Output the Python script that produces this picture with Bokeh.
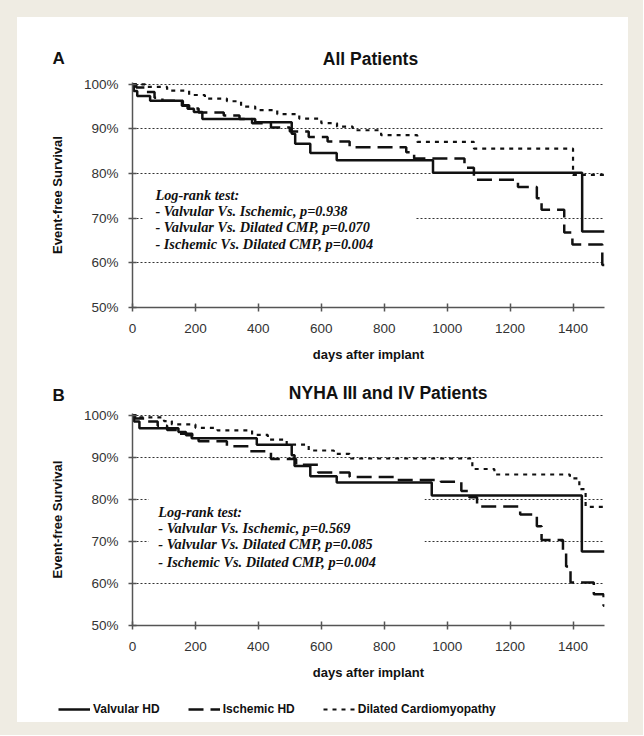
from bokeh.plotting import figure
from bokeh.models import Range1d, FixedTicker, Legend, LegendItem, Spacer
from bokeh.layouts import column, row
from bokeh.embed import file_html
from bokeh.resources import INLINE
from bokeh.core.properties import value

# ---------------- data ----------------
series_names = ["Valvular HD", "Ischemic HD", "Dilated Cardiomyopathy"]
follow_up_end = 1500
x_ticks = [0, 200, 400, 600, 800, 1000, 1200, 1400]
y_ticks = [50, 60, 70, 80, 90, 100]
grid_levels = [60, 70, 80, 90, 100]

# Panel A: All Patients (day of event, survival % after event)
a_valv_days = [0, 4, 15, 56, 157, 175, 195, 222, 390, 506, 517, 565, 649, 955, 1429]
a_valv_surv = [100, 98.5, 97.4, 96.3, 95.2, 94.5, 93.8, 92.2, 91.5, 88.9, 86.7, 84.6, 83.0, 80.2, 67.0]

a_isch_days = [0, 12, 45, 70, 95, 160, 180, 210, 290, 340, 380, 440, 500, 560, 620, 690,
               870, 895, 1055, 1085, 1225, 1285, 1300, 1372, 1398, 1493]
a_isch_surv = [100, 99.3, 98.3, 97.0, 96.3, 95.3, 94.6, 93.7, 93.0, 92.2, 91.3, 90.3, 89.4, 88.2, 87.2, 85.9,
               84.8, 83.4, 81.3, 78.6, 77.0, 74.5, 71.9, 66.8, 64.1, 59.5]

a_dil_days = [0, 40, 110, 180, 230, 300, 345, 390, 460, 530, 600, 650, 700, 790, 905, 1085, 1400]
a_dil_surv = [100, 99.4, 98.6, 97.6, 96.8, 96.2, 95.0, 94.2, 93.3, 92.3, 91.3, 90.5, 89.7, 88.6, 87.1, 85.6, 79.7]

a_title = "All Patients"
a_letter = "A"
a_notes = ["Log-rank test:",
           "- Valvular Vs. Ischemic, p=0.938",
           "- Valvular Vs. Dilated CMP, p=0.070",
           "- Ischemic Vs. Dilated CMP, p=0.004"]

# Panel B: NYHA III and IV Patients
b_valv_days = [0, 5, 22, 146, 170, 188, 395, 506, 515, 565, 649, 951, 1428]
b_valv_surv = [100, 98.5, 96.9, 96.0, 95.2, 94.5, 93.0, 90.5, 87.9, 85.5, 84.0, 80.9, 67.6]

b_isch_days = [0, 8, 40, 80, 110, 150, 190, 210, 300, 370, 440, 520, 590, 690, 830, 980,
               1045, 1070, 1095, 1232, 1285, 1300, 1368, 1378, 1392, 1466, 1497]
b_isch_surv = [100, 99.2, 98.5, 97.5, 96.5, 95.6, 94.5, 93.8, 92.6, 91.4, 89.6, 88.2, 86.4, 85.3, 84.6, 84.2,
               82.0, 80.5, 78.3, 76.4, 73.6, 70.3, 67.5, 64.0, 60.2, 57.4, 54.7]

b_dil_days = [0, 15, 100, 125, 200, 270, 380, 430, 490, 560, 640, 690, 1080, 1150, 1390, 1420, 1440]
b_dil_surv = [100, 99.5, 98.6, 97.8, 97.0, 96.4, 95.3, 94.2, 93.0, 91.6, 90.8, 89.7, 87.2, 85.9, 85.0, 82.4, 78.2]

b_title = "NYHA III and IV Patients"
b_letter = "B"
b_notes = ["Log-rank test:",
           "- Valvular Vs. Ischemic, p=0.569",
           "- Valvular Vs. Dilated CMP, p=0.085",
           "- Ischemic Vs. Dilated CMP, p=0.004"]

# ---------------- styling ----------------
BEIGE = "#efece3"
INK = "#111111"
SANS = "Liberation Sans"
SERIF = "Liberation Serif"
W = 611
styles = [dict(line_dash="solid", line_width=2.5),
          dict(line_dash="15 7", line_width=2.5),
          dict(line_dash="4 5", line_width=2.2)]


def blank(height):
    p = figure(width=W, height=height, x_range=Range1d(0, W), y_range=Range1d(0, height),
               x_axis_location=None, y_axis_location=None, toolbar_location=None,
               output_backend="svg", min_border=0, frame_align=False)
    p.outline_line_color = None
    p.background_fill_color = "white"
    p.border_fill_color = "white"
    p.grid.visible = False
    return p


def header(height, letter, letter_y, title, title_x, title_y):
    h = blank(height)
    h.text(x=[35], y=[letter_y], text=[letter], text_font=value(SANS), text_font_style="bold",
           text_font_size="17px", text_baseline="middle", text_align="left", text_color=INK)
    h.text(x=[title_x], y=[title_y], text=[title], text_font=value(SANS), text_font_style="bold",
           text_font_size="17.5px", text_baseline="middle", text_align="center", text_color=INK)
    return h


def make_panel(height, top, bottom, curves, notes, note_x, note_ys, box):
    p = figure(width=W, height=height, x_range=Range1d(0, follow_up_end),
               y_range=Range1d(50, 100.4), output_backend="svg", toolbar_location=None,
               min_border_left=115, min_border_right=24, min_border_top=top,
               min_border_bottom=bottom)
    p.outline_line_color = None
    p.background_fill_color = "white"
    p.border_fill_color = "white"
    p.xgrid.visible = False
    p.ygrid.ticker = FixedTicker(ticks=grid_levels)
    p.ygrid.grid_line_color = "#333333"
    p.ygrid.grid_line_dash = "2 2"
    p.ygrid.grid_line_width = 1

    p.xaxis.ticker = FixedTicker(ticks=x_ticks)
    p.yaxis.ticker = FixedTicker(ticks=y_ticks)
    p.yaxis.major_label_overrides = {t: f"{t}%" for t in y_ticks}
    for ax in (p.xaxis[0], p.yaxis[0]):
        ax.axis_line_color = "#555555"
        ax.axis_line_width = 1.5
        ax.major_tick_line_color = "#555555"
        ax.major_tick_line_width = 1.5
        ax.major_tick_in = 4
        ax.major_tick_out = 4
        ax.minor_tick_line_color = None
        ax.major_label_text_font = SANS
        ax.major_label_text_font_size = "13.5px"
        ax.major_label_text_color = "#333333"
        ax.axis_label_text_font = SANS
        ax.axis_label_text_font_style = "bold"
        ax.axis_label_text_font_size = "13px"
        ax.axis_label_text_color = INK
    p.xaxis.axis_label = "days after implant"
    p.xaxis.major_label_standoff = 12
    p.xaxis.axis_label_standoff = 11
    p.yaxis.axis_label = "Event-free Survival"
    p.yaxis.major_label_standoff = 10
    p.yaxis.axis_label_standoff = 16

    # white box behind the log-rank text (hides the gridlines there)
    p.quad(left=[box[0]], right=[box[1]], bottom=[box[2]], top=[box[3]],
           fill_color="white", line_color=None)

    for (days, surv), st in zip(curves, styles):
        xs = days + [follow_up_end]
        ys = surv + [surv[-1]]
        p.step(xs, ys, mode="after", line_color=INK, **st)

    p.text(x=[note_x] * len(notes), y=note_ys, text=notes,
           text_font=value(SERIF), text_font_style="bold italic",
           text_font_size="14.3px", text_baseline="middle", text_align="left",
           text_color=INK)
    return p


hA = header(53, a_letter, 12, a_title, 353, 12)
pA = make_panel(302, 12, 65,
                [(a_valv_days, a_valv_surv), (a_isch_days, a_isch_surv), (a_dil_days, a_dil_surv)],
                a_notes, 73, [75.1, 71.6, 68.0, 64.3], (35, 900, 63.5, 77.5))

hB = header(33, b_letter, 10, b_title, 371, 13)
pB = make_panel(277, 8, 55,
                [(b_valv_days, b_valv_surv), (b_isch_days, b_isch_surv), (b_dil_days, b_dil_surv)],
                b_notes, 82, [77.0, 73.25, 69.3, 65.0], (51, 928, 62.0, 81.7))

# legend strip (legend samples only; nothing plotted in this strip)
lf = blank(40)
items = []
for name, st in zip(series_names, styles):
    r = lf.line(x=[float("nan")], y=[float("nan")], line_color=INK, **st)
    items.append(LegendItem(label=name, renderers=[r]))
legend = Legend(items=items, orientation="horizontal", location=(41, 6), glyph_width=32,
                glyph_height=14, label_standoff=3, spacing=28, padding=0, margin=0,
                border_line_color=None, background_fill_alpha=0, label_text_font=SANS,
                label_text_font_style="bold", label_text_font_size="12px",
                label_text_color=INK, label_height=14)
lf.add_layout(legend)

bg = {"background-color": BEIGE}
layout = row(
    Spacer(width=17, height=735, styles=bg),
    column(Spacer(width=W, height=17, styles=bg), hA, pA, hB, pB, lf,
           Spacer(width=W, height=13, styles=bg)),
    Spacer(width=15, height=735, styles=bg),
)

open("out.html", "w").write(file_html(layout, INLINE))
